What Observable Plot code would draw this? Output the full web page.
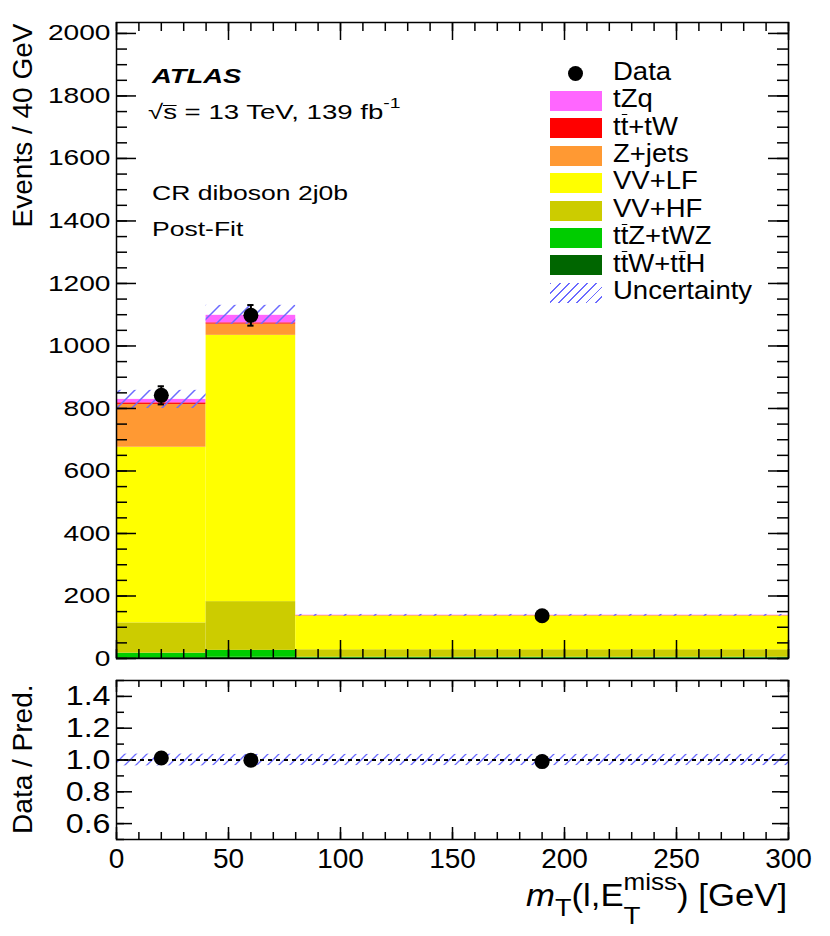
<!DOCTYPE html>
<html><head><meta charset="utf-8">
<script src="https://cdn.jsdelivr.net/npm/d3@7"></script>
<script src="https://cdn.jsdelivr.net/npm/@observablehq/plot@0.6"></script>
<style>
body{margin:0;background:#fff;}
#wrap{position:relative;width:830px;height:936px;font-family:"Liberation Sans",Arial,Helvetica,sans-serif;overflow:hidden;background:#fff}
#wrap svg{position:absolute;left:0}
.txt{position:absolute;white-space:nowrap;color:#000;line-height:1}
.ob{position:relative}
.ob::before{content:"";position:absolute;left:0.04em;right:0.02em;top:0.1em;border-top:1.6px solid #000}
.sq{position:relative}
.sq::before{content:"";position:absolute;left:-0.02em;right:0.02em;top:0.2em;border-top:1.4px solid #000}
.box{position:absolute}
</style></head><body><div id="wrap"></div>
<script>
// ---------------- data ----------------
const binLo = [0, 40, 80];
const binHi = [40, 80, 300];
const procNames  = ["ttW+ttH", "ttZ+tWZ", "VV+HF", "VV+LF", "Z+jets", "tt+tW", "tZq"];
const procColors = ["#006600", "#00cc00", "#cccc00", "#ffff00", "#ff9933", "#ff0000", "#ff66ff"];
const ttWttH = [3, 4, 1];
const ttZtWZ = [14, 22, 3];
const VVHF   = [97, 156, 24];
const VVLF   = [562, 852, 108];
const Zjets  = [137, 36, 1];
const ttbar  = [5, 4, 0.5];
const tZq    = [11, 24, 1];
const procValues = [ttWttH, ttZtWZ, VVHF, VVLF, Zjets, ttbar, tZq];
const dataX   = [20, 60, 190];
const dataY   = [842, 1098, 137];
const dataErr = [29, 33, 5];
const uncLo = [800, 1069, 135];
const uncHi = [858, 1130, 141];
const ratioY   = [1.013, 0.999, 0.99];
const ratioErr = [0.035, 0.031, 0.036];
const ratioUnc = [0.037, 0.035, 0.035];
const yTicksMain  = [0, 200, 400, 600, 800, 1000, 1200, 1400, 1600, 1800, 2000];
const yTicksRatio = [0.6, 0.8, 1.0, 1.2, 1.4];
const xTicks      = [0, 50, 100, 150, 200, 250, 300];
const legendLabels = ["Data", "tZq", "t<span class='ob'>t</span>+tW", "Z+jets", "VV+LF", "VV+HF",
  "t<span class='ob'>t</span>Z+tWZ", "t<span class='ob'>t</span>W+t<span class='ob'>t</span>H", "Uncertainty"];
const legendColors = [null, "#ff66ff", "#ff0000", "#ff9933", "#ffff00", "#cccc00", "#00cc00", "#006600", "hatch"];

// ---------------- derived tables ----------------
const idx = d3.range(binLo.length);
const stack = [];
idx.forEach(i => {
  let cum = 0;
  procValues.forEach((vals, p) => {
    stack.push({x1: binLo[i], x2: binHi[i], y1: cum, y2: cum + vals[i], color: procColors[p], name: procNames[p]});
    cum += vals[i];
  });
});
const xMinor = d3.range(0, 301, 10);
const yMinorMain = d3.range(0, 2001, 50);
const yMinorRatio = d3.range(0.5, 1.51, 0.1).map(v => +v.toFixed(2));

// ---------------- layout ----------------
const W = 830, mL = 116, mR = 42;
const innerW = W - mL - mR;
const mainH = 670, mT = 22, mB = 12, innerHm = mainH - mT - mB;
const ratH = 266, rT = 10, rB = 97, innerHr = ratH - rT - rB;
const font = "'Liberation Sans', Arial, Helvetica, sans-serif";
const tk = {stroke: "black", strokeWidth: 1.5};

const main = Plot.plot({
  width: W, height: mainH, marginLeft: mL, marginRight: mR, marginTop: mT, marginBottom: mB,
  style: `font-family:${font};font-size:22px;background:transparent;overflow:visible;`,
  x: {domain: [0, 300], axis: null},
  y: {domain: [0, 2035], ticks: yTicksMain, tickSize: 0, tickPadding: 6, tickFormat: d => String(d), label: null},
  color: {type: "identity"},
  marks: [
    Plot.rect(stack, {x1: "x1", x2: "x2", y1: "y1", y2: "y2", fill: "color"}),
    Plot.rect(idx, {x1: i => binLo[i], x2: i => binHi[i], y1: i => uncLo[i], y2: i => uncHi[i], fill: "url(#hatchMain)"}),
    Plot.ruleX(idx, {x: i => dataX[i], y1: i => dataY[i] - dataErr[i], y2: i => dataY[i] + dataErr[i], stroke: "black", strokeWidth: 2}),
    Plot.ruleY(idx, {y: i => dataY[i] - dataErr[i], x1: i => dataX[i] - 1.4, x2: i => dataX[i] + 1.4, stroke: "black", strokeWidth: 2}),
    Plot.ruleY(idx, {y: i => dataY[i] + dataErr[i], x1: i => dataX[i] - 1.4, x2: i => dataX[i] + 1.4, stroke: "black", strokeWidth: 2}),
    Plot.dot(idx, {x: i => dataX[i], y: i => dataY[i], r: 7.5, fill: "black"}),
    Plot.tickX(xMinor, {x: d => d, insetTop: innerHm - 9, ...tk}),
    Plot.tickX(xTicks, {x: d => d, insetTop: innerHm - 18, ...tk}),
    Plot.tickX(xMinor, {x: d => d, insetBottom: innerHm - 9, ...tk}),
    Plot.tickX(xTicks, {x: d => d, insetBottom: innerHm - 18, ...tk}),
    Plot.tickY(yMinorMain, {y: d => d, insetRight: innerW - 11, ...tk}),
    Plot.tickY(yTicksMain, {y: d => d, insetRight: innerW - 20, ...tk}),
    Plot.tickY(yMinorMain, {y: d => d, insetLeft: innerW - 11, ...tk}),
    Plot.tickY(yTicksMain, {y: d => d, insetLeft: innerW - 20, ...tk}),
    Plot.frame({stroke: "black", strokeWidth: 1.5}),
    Plot.text(["Events / 40 GeV"], {frameAnchor: "top-left", dx: -93, dy: 1, rotate: -90, textAnchor: "end", lineAnchor: "middle", fontSize: 28})
  ]
});

const ratio = Plot.plot({
  width: W, height: ratH, marginLeft: mL, marginRight: mR, marginTop: rT, marginBottom: rB,
  style: `font-family:${font};font-size:28px;background:transparent;overflow:visible;`,
  x: {domain: [0, 300], ticks: xTicks, tickSize: 0, tickPadding: 9, tickFormat: d => String(d), label: null},
  y: {domain: [0.5, 1.5], ticks: yTicksRatio, tickSize: 0, tickPadding: 6, tickFormat: d => d.toFixed(1), label: null},
  marks: [
    Plot.rect(idx, {x1: i => binLo[i], x2: i => binHi[i], y1: i => 1 - ratioUnc[i], y2: i => 1 + ratioUnc[i], fill: "url(#hatchRatio)"}),
    Plot.ruleY([1], {stroke: "black", strokeWidth: 2, strokeDasharray: "4,4"}),
    Plot.ruleX(idx, {x: i => dataX[i], y1: i => ratioY[i] - ratioErr[i], y2: i => ratioY[i] + ratioErr[i], stroke: "black", strokeWidth: 2}),
    Plot.dot(idx, {x: i => dataX[i], y: i => ratioY[i], r: 7.5, fill: "black"}),
    Plot.tickX(xMinor, {x: d => d, insetTop: innerHr - 7, ...tk}),
    Plot.tickX(xTicks, {x: d => d, insetTop: innerHr - 12, ...tk}),
    Plot.tickX(xMinor, {x: d => d, insetBottom: innerHr - 7, ...tk}),
    Plot.tickX(xTicks, {x: d => d, insetBottom: innerHr - 12, ...tk}),
    Plot.tickY(yMinorRatio, {y: d => d, insetRight: innerW - 8, ...tk}),
    Plot.tickY(yTicksRatio, {y: d => d, insetRight: innerW - 16, ...tk}),
    Plot.tickY(yMinorRatio, {y: d => d, insetLeft: innerW - 8, ...tk}),
    Plot.tickY(yTicksRatio, {y: d => d, insetLeft: innerW - 16, ...tk}),
    Plot.frame({stroke: "black", strokeWidth: 1.5}),
    Plot.text(["Data / Pred."], {frameAnchor: "top-left", dx: -93, dy: 4, rotate: -90, textAnchor: "end", lineAnchor: "middle", fontSize: 28})
  ]
});

const wrap = document.getElementById("wrap");
main.style.top = "0px";
ratio.style.top = mainH + "px";
wrap.appendChild(main);
wrap.appendChild(ratio);

// hatch patterns
function addHatch(svg, id, step, color, sw) {
  const ns = "http://www.w3.org/2000/svg";
  const defs = document.createElementNS(ns, "defs");
  const p = document.createElementNS(ns, "pattern");
  p.setAttribute("id", id);
  p.setAttribute("patternUnits", "userSpaceOnUse");
  p.setAttribute("width", step); p.setAttribute("height", step);
  const path = document.createElementNS(ns, "path");
  const q = step / 4;
  path.setAttribute("d", `M${-q},${q} L${q},${-q} M0,${step} L${step},0 M${step - q},${step + q} L${step + q},${step - q}`);
  path.setAttribute("stroke", color); path.setAttribute("stroke-width", sw); path.setAttribute("fill", "none");
  p.appendChild(path); defs.appendChild(p);
  svg.insertBefore(defs, svg.firstChild);
}
addHatch(main, "hatchMain", 15, "#6b6bff", 1.5);
addHatch(ratio, "hatchRatio", 11, "#6b6bff", 1.3);

// horizontal stretch of tick labels (anchored at their text-anchor point)
function stretch(svg, s, anchorWanted) {
  svg.querySelectorAll("text").forEach(t => {
    const tr = t.getAttribute("transform") || "";
    if (tr.includes("rotate")) return;
    const anchor = getComputedStyle(t).textAnchor;
    if (anchorWanted && anchor !== anchorWanted) return;
    const b = t.getBBox();
    const ax = anchor === "end" ? b.x + b.width : anchor === "middle" ? b.x + b.width / 2 : b.x;
    t.setAttribute("transform", `${tr} translate(${ax},0) scale(${s},1) translate(${-ax},0)`);
  });
}
stretch(main, 1.28, "end");
stretch(ratio, 1.15, "end");

// ---------------- HTML text overlays ----------------
function place(html, x, baseline, fs, opts = {}) {
  const d = document.createElement("div");
  d.className = "txt";
  d.innerHTML = html;
  d.style.fontSize = fs + "px";
  d.style.top = (baseline - 0.8465 * fs) + "px";
  if (opts.right) { d.style.right = (W - x) + "px"; d.style.transformOrigin = "100% 0"; }
  else { d.style.left = x + "px"; d.style.transformOrigin = "0 0"; }
  if (opts.sx) d.style.transform = `scaleX(${opts.sx})`;
  if (opts.weight) d.style.fontWeight = opts.weight;
  if (opts.italic) d.style.fontStyle = "italic";
  wrap.appendChild(d);
  return d;
}
place("ATLAS", 152, 83, 20, {sx: 1.37, weight: "bold", italic: true});
place("√<span class='sq'>s</span> = 13 TeV, 139 fb<span style='font-size:0.7em;position:relative;top:-0.75em'>-1</span>", 148, 119, 20.3, {sx: 1.36});
place("CR diboson 2j0b", 152, 200.5, 19.5, {sx: 1.36});
place("Post-Fit", 152, 237, 19.5, {sx: 1.36});

// legend
const legTop = 73.3, legStep = 27.45;
legendLabels.forEach((lab, i) => {
  const cy = legTop + legStep * i;
  const c = legendColors[i];
  const b = document.createElement("div");
  b.className = "box";
  if (c === null) {
    Object.assign(b.style, {left: (575.7 - 7.5) + "px", top: (cy - 7.5) + "px", width: "15px", height: "15px", borderRadius: "50%", background: "#000"});
  } else if (c === "hatch") {
    Object.assign(b.style, {left: "550px", top: (cy - 10) + "px", width: "52px", height: "20px",
      background: "repeating-linear-gradient(135deg, #6b6bff 0px, #6b6bff 1.3px, transparent 1.3px, transparent 6.5px)"});
  } else {
    Object.assign(b.style, {left: "550px", top: (cy - 10) + "px", width: "52px", height: "20px", background: c});
  }
  wrap.appendChild(b);
  place(lab, 613, cy + 6.5, 25, {sx: 1.1});
});

// x-axis title
place("<i>m</i><span style='font-size:0.78em;position:relative;top:0.38em'>T</span>(l,E<span style='display:inline-block;position:relative'><span style='font-size:0.75em;position:relative;top:-0.7em'>miss</span><span style='font-size:0.8em;position:absolute;left:0;top:0.95em'>T</span></span>) [GeV]",
  787, 906.7, 31, {right: true, sx: 1.12});
</script>
</body></html>
